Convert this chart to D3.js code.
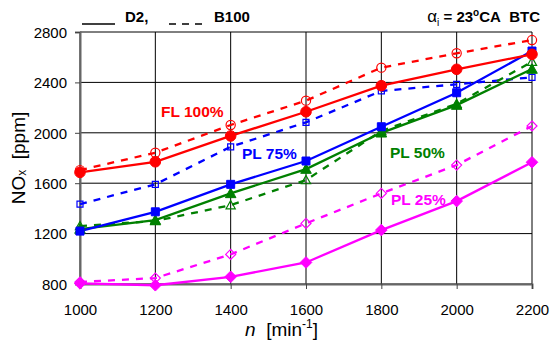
<!DOCTYPE html>
<html>
<head>
<meta charset="utf-8">
<script src="https://cdn.jsdelivr.net/npm/d3@7"></script>
<style>
  body { margin: 0; background: #fff; }
  text { font-family: "Liberation Sans", Arial, sans-serif; }
</style>
</head>
<body>
<script>
// data
let speeds = [1000, 1200, 1400, 1600, 1800, 2000, 2200];
let yTicks = [800, 1200, 1600, 2000, 2400, 2800];

let d2FL100 = [1686, 1770, 1975, 2167, 2374, 2504, 2623];
let b100FL100 = [1704, 1842, 2062, 2255, 2517, 2631, 2736];
let d2PL75 = [1220, 1373, 1591, 1776, 2048, 2318, 2649];
let b100PL75 = [1434, 1591, 1889, 2083, 2332, 2385, 2440];
let d2PL50 = [1236, 1307, 1519, 1712, 2000, 2220, 2506];
let b100PL50 = [1260, 1300, 1426, 1625, 2014, 2230, 2564];
let d2PL25 = [805, 790, 857, 971, 1228, 1458, 1766];
let b100PL25 = [816, 847, 1035, 1281, 1519, 1744, 2054];

let seriesList = [
  {vals: b100FL100, color: "#ff0000", dash: true, marker: "circle", fill: false},
  {vals: b100PL75, color: "#0000ff", dash: true, marker: "square", fill: false},
  {vals: b100PL50, color: "#008000", dash: true, marker: "triangle", fill: false},
  {vals: b100PL25, color: "#ff00ff", dash: true, marker: "diamond", fill: false},
  {vals: d2PL25, color: "#ff00ff", dash: false, marker: "diamond", fill: true},
  {vals: d2PL50, color: "#008000", dash: false, marker: "triangle", fill: true},
  {vals: d2PL75, color: "#0000ff", dash: false, marker: "square", fill: true},
  {vals: d2FL100, color: "#ff0000", dash: false, marker: "circle", fill: true}
];

let width = 551, height = 342;
let margin = {top: 32, left: 80};
let w = 532 - margin.left, h = 284 - margin.top;

let svg = d3.select("body").append("svg")
  .attr("width", width).attr("height", height);

let graph = svg.append("g")
  .attr("transform", "translate(" + margin.left + "," + margin.top + ")");

let xScale = d3.scaleLinear().domain([1000, 2200]).range([0, w]);
let yScale = d3.scaleLinear().domain([800, 2800]).range([h, 0]);

// grid
graph.selectAll(".vgrid").data(speeds).enter().append("line")
  .attr("x1", d => xScale(d)).attr("x2", d => xScale(d))
  .attr("y1", 0).attr("y2", h)
  .style("stroke", "#000").style("stroke-width", 1);
graph.selectAll(".hgrid").data(yTicks).enter().append("line")
  .attr("x1", 0).attr("x2", w)
  .attr("y1", d => yScale(d)).attr("y2", d => yScale(d))
  .style("stroke", "#000").style("stroke-width", 1);

// axes
let xAxis = d3.axisBottom(xScale).tickValues(speeds).tickSize(5).tickFormat(d3.format("d"));
let gx = graph.append("g").attr("transform", "translate(0," + h + ")").call(xAxis);
let yAxis = d3.axisLeft(yScale).tickValues(yTicks).tickSize(5).tickFormat(d3.format("d"));
let gy = graph.append("g").call(yAxis);
[gx, gy].forEach(function(g) {
  g.select(".domain").style("stroke", "#666").style("stroke-width", 2);
  g.selectAll(".tick line").style("stroke", "#444");
  g.selectAll("text").style("font-size", "15px").style("fill", "#000")
    .style("font-family", "Liberation Sans, Arial, sans-serif");
});
gx.selectAll("text").attr("y", 0).attr("dy", 31);
gy.selectAll("text").attr("x", -13).attr("dy", "0.35em");

// lines
let line = d3.line().x((d, i) => xScale(speeds[i])).y(d => yScale(d));
seriesList.forEach(function(s) {
  graph.append("path").datum(s.vals)
    .attr("d", line)
    .style("fill", "none")
    .style("stroke", s.color)
    .style("stroke-width", 2.3)
    .style("stroke-dasharray", s.dash ? "7,7" : null);
});

// markers
function markerPath(type, r) {
  if (type === "circle") return d3.symbol().type(d3.symbolCircle).size(Math.PI * r * r)();
  if (type === "square") return "M" + (-r) + "," + (-r) + "h" + 2 * r + "v" + 2 * r + "h" + (-2 * r) + "Z";
  if (type === "diamond") return "M0," + (-r) + "L" + r + ",0L0," + r + "L" + (-r) + ",0Z";
  return "M0," + (-r) + "L" + r + "," + (r * 0.8) + "L" + (-r) + "," + (r * 0.8) + "Z";
}
let markerSize = {
  circle: [5.3, 4.6], square: [4, 3], triangle: [5.3, 4.6], diamond: [5.8, 5]
};
seriesList.forEach(function(s) {
  let r = s.fill ? markerSize[s.marker][0] : markerSize[s.marker][1];
  graph.selectAll(null).data(s.vals).enter().append("path")
    .attr("d", markerPath(s.marker, r))
    .attr("transform", (d, i) => "translate(" + xScale(speeds[i]) + "," + yScale(d) + ")")
    .style("fill", s.fill ? s.color : "none")
    .style("stroke", s.color)
    .style("stroke-width", s.fill ? 1 : 1.2);
});

// series labels
let labels = [
  {text: "FL 100%", x: 161, y: 117, color: "#ff0000"},
  {text: "PL 75%", x: 242, y: 159, color: "#0000ff"},
  {text: "PL 50%", x: 390, y: 158, color: "#008000"},
  {text: "PL 25%", x: 391, y: 205, color: "#ff00ff"}
];
labels.forEach(function(l) {
  svg.append("text").attr("x", l.x).attr("y", l.y).text(l.text)
    .style("fill", l.color).style("font-weight", "bold").style("font-size", "15.5px");
});

// legend at top
svg.append("line").attr("x1", 82).attr("x2", 115).attr("y1", 24).attr("y2", 24)
  .style("stroke", "#000").style("stroke-width", 1.3);
svg.append("text").attr("x", 125).attr("y", 22).text("D2,")
  .style("font-weight", "bold").style("font-size", "15px");
svg.append("line").attr("x1", 169).attr("x2", 204).attr("y1", 24).attr("y2", 24)
  .style("stroke", "#000").style("stroke-width", 1.3).style("stroke-dasharray", "7,6");
svg.append("text").attr("x", 214).attr("y", 22).text("B100")
  .style("font-weight", "bold").style("font-size", "15px");

let cond = svg.append("text").attr("x", 540).attr("y", 22).attr("text-anchor", "end")
  .style("font-size", "15px");
cond.append("tspan").text("\u03b1").style("font-size", "17px");
cond.append("tspan").text("i").attr("dy", 4).style("font-size", "10px");
cond.append("tspan").text(" = 23").attr("dy", -4).style("font-weight", "bold");
cond.append("tspan").text("o").attr("dy", -6).style("font-size", "10px").style("font-weight", "bold");
cond.append("tspan").text("CA\u00a0\u00a0BTC").attr("dy", 6).style("font-weight", "bold");

// axis titles
let xt = svg.append("text").attr("x", 245).attr("y", 336)
  .style("font-size", "19px");
xt.append("tspan").text("n").style("font-style", "italic");
xt.append("tspan").text("\u00a0\u00a0[min");
xt.append("tspan").text("-1").attr("dy", -8).style("font-size", "12px");
xt.append("tspan").text("]").attr("dy", 8);

let yt = svg.append("text").attr("transform", "translate(25,158) rotate(-90)")
  .attr("text-anchor", "middle").style("font-size", "19px");
yt.append("tspan").text("NO");
yt.append("tspan").text("x").style("font-size", "12px").attr("dy", 1);
yt.append("tspan").text("\u00a0\u00a0[ppm]").attr("dy", -1);
</script>
</body>
</html>
